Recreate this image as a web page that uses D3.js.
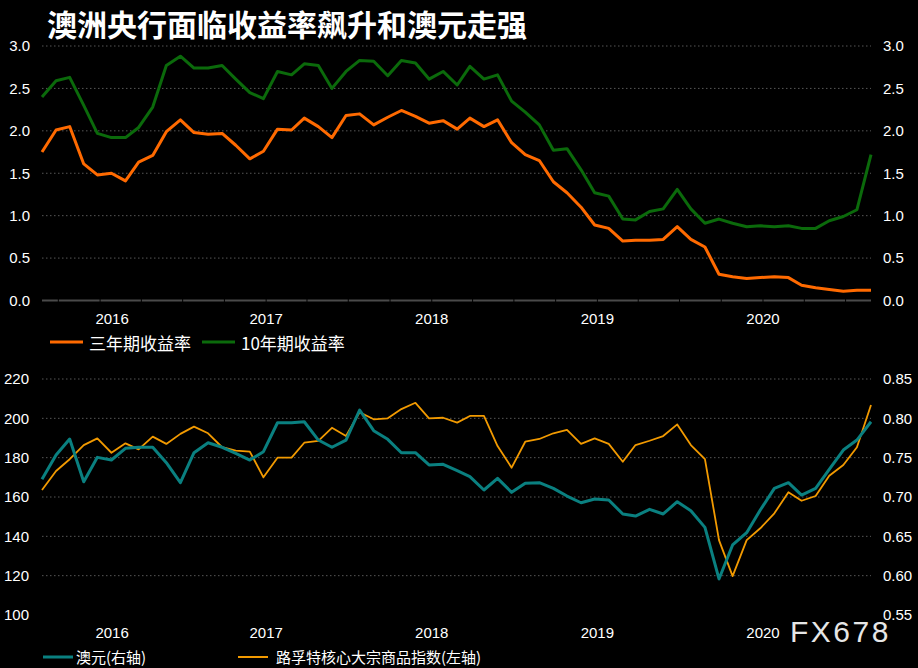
<!DOCTYPE html>
<html>
<head>
<meta charset="utf-8">
<script src="https://cdn.jsdelivr.net/npm/d3@7"></script>
<style>
  html, body { margin: 0; padding: 0; background: #000; }
  svg { display: block; }
</style>
</head>
<body>
<svg id="chart" width="918" height="668"></svg>
<script>
// ---------- DATA ----------
const title = "澳洲央行面临收益率飙升和澳元走强";
const startMonth = new Date(2015, 7, 26);   // monthly observations Aug 2015 – Aug 2020
const yearLabels = ["2016", "2017", "2018", "2019", "2020"];

const yield3y = [1.75,2.01,2.05,1.61,1.48,1.50,1.41,1.63,1.71,1.99,2.13,1.98,1.96,1.97,1.83,1.67,1.76,2.02,2.01,2.15,2.05,1.92,2.18,2.20,2.07,2.16,2.24,2.17,2.09,2.12,2.02,2.15,2.05,2.13,1.86,1.72,1.65,1.40,1.27,1.10,0.89,0.85,0.70,0.71,0.71,0.72,0.87,0.72,0.63,0.31,0.28,0.26,0.27,0.28,0.27,0.18,0.15,0.13,0.11,0.12,0.12];
const yield10y = [2.40,2.59,2.63,2.30,1.97,1.92,1.92,2.04,2.28,2.77,2.88,2.74,2.74,2.77,2.61,2.45,2.38,2.70,2.66,2.79,2.77,2.50,2.70,2.83,2.82,2.65,2.83,2.80,2.61,2.70,2.54,2.76,2.61,2.66,2.35,2.22,2.07,1.77,1.79,1.54,1.27,1.23,0.96,0.95,1.05,1.08,1.31,1.08,0.91,0.96,0.91,0.87,0.88,0.87,0.88,0.85,0.85,0.94,0.99,1.07,1.72];

const audusd = [0.7225,0.7534,0.7737,0.7194,0.7504,0.7470,0.7619,0.7632,0.7632,0.7436,0.7182,0.7563,0.7690,0.7632,0.7555,0.7470,0.7576,0.7944,0.7944,0.7957,0.7724,0.7632,0.7724,0.8106,0.7843,0.7733,0.7563,0.7563,0.7407,0.7415,0.7334,0.7258,0.7089,0.7237,0.7059,0.7174,0.7182,0.7110,0.7012,0.6927,0.6974,0.6962,0.6784,0.6758,0.6843,0.6784,0.6940,0.6826,0.6614,0.5958,0.6390,0.6546,0.6834,0.7110,0.7182,0.7025,0.7110,0.7352,0.7597,0.7724,0.7957];
const commodity = [163.6,173.2,179.2,186.4,189.8,182.5,187.3,184.2,190.7,187.0,192.1,195.8,192.4,185.3,183.6,183.1,170.0,180.0,180.0,187.6,188.5,195.2,191.0,203.1,199.5,200.0,204.7,207.9,200.0,200.3,197.8,201.2,201.2,185.9,174.9,188.1,189.5,192.4,194.1,187.0,189.8,187.0,177.9,186.4,188.6,191.0,196.9,186.4,179.3,138.1,119.8,138.1,144.1,151.7,162.4,158.1,160.5,170.8,176.3,185.3,206.8];

const topTicks = [0.0, 0.5, 1.0, 1.5, 2.0, 2.5, 3.0];
const leftTicks = [100, 120, 140, 160, 180, 200, 220];
const rightTicks = [0.55, 0.60, 0.65, 0.70, 0.75, 0.80, 0.85];

const legendTop = [
  { name: "三年期收益率", color: "#ff6a00" },
  { name: "10年期收益率", color: "#0b6a0b" }
];
const legendBottom = [
  { name: "澳元(右轴)", color: "#0a8080" },
  { name: "路孚特核心大宗商品指数(左轴)", color: "#f29a00" }
];

// ---------- SETUP ----------
const dates = yield3y.map((_, i) => d3.timeMonth.offset(startMonth, i));
const svg = d3.select("#chart");
svg.append("rect").attr("width", 918).attr("height", 668).attr("fill", "#000");

const numFont = "'Liberation Sans', Arial, sans-serif";
const cjkFont = "'Noto Sans CJK SC', sans-serif";

const x = d3.scaleTime()
  .domain([dates[0], dates[dates.length - 1]])
  .range([42, 871]);

const yTop = d3.scaleLinear().domain([0, 3]).range([300.5, 46]);
const yL = d3.scaleLinear().domain([100, 220]).range([615, 379]);
const yR = d3.scaleLinear().domain([0.55, 0.85]).range([615, 379]);

const quarterTicks = d3.timeMonth.every(3).range(new Date(2015, 9, 1), dates[dates.length - 1]);
const yearTicks = yearLabels.map(y => new Date(+y, 0, 1));

// ---------- TITLE ----------
svg.append("text")
  .attr("x", 47).attr("y", 36)
  .attr("fill", "#fff")
  .attr("font-family", cjkFont)
  .attr("font-weight", "bold")
  .attr("font-size", 30)
  .text(title);

// ---------- helpers ----------
function gridLines(g, scale, values) {
  g.selectAll("line.grid").data(values).join("line")
    .attr("class", "grid")
    .attr("x1", 42).attr("x2", 871)
    .attr("y1", d => scale(d)).attr("y2", d => scale(d))
    .attr("stroke", "#575757")
    .attr("stroke-width", 1)
    .attr("stroke-dasharray", "1.5,2.5");
}
function styleAxis(g) {
  g.select(".domain").remove();
  g.selectAll(".tick line").remove();
  g.selectAll(".tick text")
    .attr("fill", "#fff")
    .attr("font-family", numFont)
    .attr("font-size", 15);
}

// ---------- TOP CHART ----------
const topG = svg.append("g");
gridLines(topG, yTop, topTicks.filter(d => d > 0));

// baseline axis with quarterly tick gaps
topG.append("line")
  .attr("x1", 42).attr("x2", 871)
  .attr("y1", yTop(0)).attr("y2", yTop(0))
  .attr("stroke", "#4a4a4a").attr("stroke-width", 2);
topG.selectAll("line.qgap").data(quarterTicks).join("line")
  .attr("class", "qgap")
  .attr("x1", d => x(d)).attr("x2", d => x(d))
  .attr("y1", yTop(0) - 1.5).attr("y2", yTop(0) + 1.5)
  .attr("stroke", "#000").attr("stroke-width", 1);

topG.append("g").attr("transform", "translate(34,0)")
  .call(d3.axisLeft(yTop).tickValues(topTicks).tickFormat(d3.format(".1f")).tickSize(0).tickPadding(4))
  .call(styleAxis);
topG.append("g").attr("transform", "translate(879,0)")
  .call(d3.axisRight(yTop).tickValues(topTicks).tickFormat(d3.format(".1f")).tickSize(0).tickPadding(4))
  .call(styleAxis);

const lineTop = d3.line().x((d, i) => x(dates[i])).y(d => yTop(d));
topG.append("path").datum(yield10y)
  .attr("d", lineTop).attr("fill", "none")
  .attr("stroke", legendTop[1].color).attr("stroke-width", 3).attr("stroke-linejoin", "round");
topG.append("path").datum(yield3y)
  .attr("d", lineTop).attr("fill", "none")
  .attr("stroke", legendTop[0].color).attr("stroke-width", 3).attr("stroke-linejoin", "round");

// year labels
const labelOffset = (i) => i === 0 ? 12 : 0;
topG.selectAll("text.year").data(yearTicks).join("text")
  .attr("class", "year")
  .attr("x", (d, i) => x(d) + labelOffset(i)).attr("y", 324)
  .attr("text-anchor", "middle")
  .attr("fill", "#fff").attr("font-family", numFont).attr("font-size", 15)
  .text((d, i) => yearLabels[i]);

// top legend
const legTopG = svg.append("g");
const ltX = [50, 202];
legendTop.forEach((s, i) => {
  legTopG.append("line").attr("x1", ltX[i]).attr("x2", ltX[i] + 33)
    .attr("y1", 342).attr("y2", 342)
    .attr("stroke", s.color).attr("stroke-width", 3);
  legTopG.append("text").attr("x", ltX[i] + 39).attr("y", 350)
    .attr("fill", "#fff").attr("font-family", cjkFont).attr("font-size", 17)
    .text(s.name);
});

// ---------- BOTTOM CHART ----------
const botG = svg.append("g");
gridLines(botG, yL, leftTicks.filter(d => d > 100));

botG.append("g").attr("transform", "translate(33,0)")
  .call(d3.axisLeft(yL).tickValues(leftTicks).tickFormat(d3.format("d")).tickSize(0).tickPadding(4))
  .call(styleAxis);
botG.append("g").attr("transform", "translate(879,0)")
  .call(d3.axisRight(yR).tickValues(rightTicks).tickFormat(d3.format(".2f")).tickSize(0).tickPadding(4))
  .call(styleAxis);

botG.append("path").datum(commodity)
  .attr("d", d3.line().x((d, i) => x(dates[i])).y(d => yL(d)))
  .attr("fill", "none").attr("stroke", legendBottom[1].color)
  .attr("stroke-width", 1.8).attr("stroke-linejoin", "round");
botG.append("path").datum(audusd)
  .attr("d", d3.line().x((d, i) => x(dates[i])).y(d => yR(d)))
  .attr("fill", "none").attr("stroke", legendBottom[0].color)
  .attr("stroke-width", 3).attr("stroke-linejoin", "round");

botG.selectAll("text.year").data(yearTicks).join("text")
  .attr("class", "year")
  .attr("x", (d, i) => x(d) + labelOffset(i)).attr("y", 638)
  .attr("text-anchor", "middle")
  .attr("fill", "#fff").attr("font-family", numFont).attr("font-size", 15)
  .text((d, i) => yearLabels[i]);

// watermark
svg.append("text")
  .attr("x", 790).attr("y", 642)
  .attr("fill", "#e6e6e6")
  .attr("font-family", numFont).attr("font-size", 30)
  .attr("letter-spacing", 2.5)
  .text("FX678");

// bottom legend
const legBotG = svg.append("g");
const lbX = [43, 238];
legendBottom.forEach((s, i) => {
  legBotG.append("line").attr("x1", lbX[i]).attr("x2", lbX[i] + 30)
    .attr("y1", 657).attr("y2", 657)
    .attr("stroke", s.color).attr("stroke-width", i === 0 ? 3 : 2);
  legBotG.append("text").attr("x", lbX[i] + (i === 0 ? 33 : 38)).attr("y", 663)
    .attr("fill", "#fff").attr("font-family", cjkFont).attr("font-size", 15)
    .text(s.name);
});
</script>
</body>
</html>
